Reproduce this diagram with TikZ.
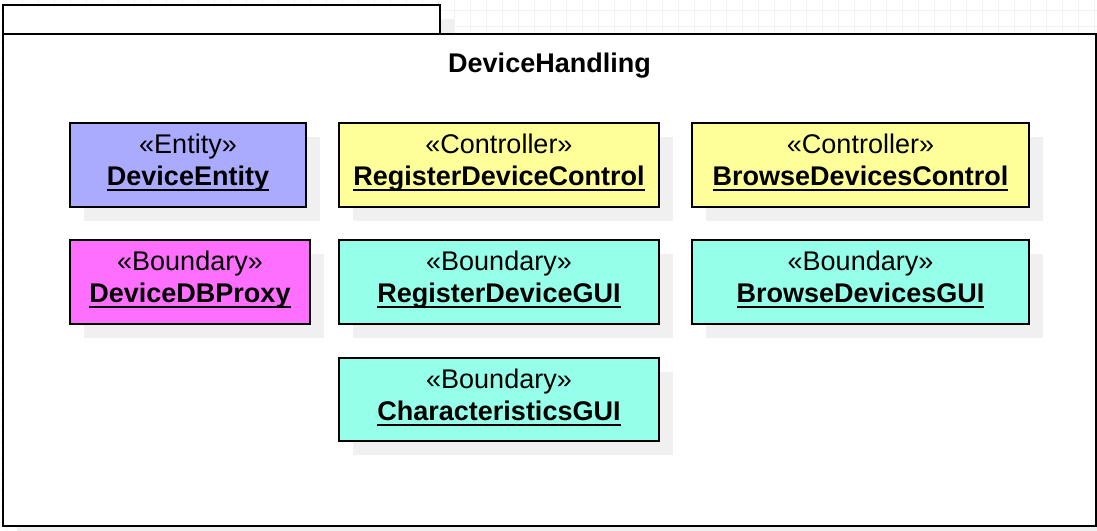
\documentclass[tikz,border=0pt]{standalone}
\usepackage{fontspec}
\setmainfont{Liberation Sans}
\usetikzlibrary{calc}
\definecolor{entityc}{RGB}{170,170,255}
\definecolor{ctrlc}{RGB}{255,255,153}
\definecolor{bndc}{RGB}{150,255,234}
\definecolor{proxyc}{RGB}{255,111,255}
\definecolor{shadc}{RGB}{240,240,240}
\definecolor{gridc}{RGB}{242,242,242}
\newcommand\ulname[1]{\setbox0\hbox{\bfseries #1}\rlap{\rule[-5pt]{\wd0}{2pt}}\box0}
\newcommand\umlbox[8]{%
  \fill[shadc] (#2+14,#3+14) rectangle (#4+14,#5+14);
  \node[classbox, fill=#6, minimum width=#4-#2, minimum height=#5-#3, anchor=north west] (#1) at (#2,#3) {};
  \node[labeltext] (#1-s) at ($(#1.north)+(0,30.5)$) {«#7»};
  \node[labeltext] (#1-n) at ($(#1.north)+(0,62.5)$) {\ulname{#8}};
}
\begin{document}
\begin{tikzpicture}[x=1pt,y=-1pt,
  classbox/.style={draw=black, line width=2pt, inner sep=0pt, outer sep=0pt},
  labeltext/.style={anchor=base, inner sep=0pt, font=\fontsize{27}{32}\selectfont},
  pkgpart/.style={draw=black, line width=2pt, fill=white, inner sep=0pt, outer sep=0pt, anchor=north west},
  gridline/.style={draw=gridc, line width=1pt}
]
\useasboundingbox (0,0) rectangle (1097,530);
\fill[white] (0,0) rectangle (1097,530);
\foreach \i in {0,...,68} \draw[gridline] (6.7+16*\i,0) -- (6.7+16*\i,530);
\foreach \i in {0,...,33} \draw[gridline] (0,10.7+16*\i) -- (1097,10.7+16*\i);
% package
\fill[shadc] (17,19) rectangle (454,48);
\fill[shadc] (17,48) rectangle (1110,540);
\node[pkgpart, minimum width=437, minimum height=29] (tab) at (3,5) {};
\node[pkgpart, minimum width=1093, minimum height=492] (pkg) at (3,34) {};
\node[anchor=base, inner sep=0pt, font=\fontsize{27}{32}\selectfont\bfseries] (title) at (549.5,72) {DeviceHandling};
% classes
\umlbox{ent}{70}{123}{306}{207}{entityc}{Entity}{DeviceEntity}
\umlbox{rdc}{339}{123}{659}{207}{ctrlc}{Controller}{RegisterDeviceControl}
\umlbox{bdc}{692}{123}{1029}{207}{ctrlc}{Controller}{BrowseDevicesControl}
\umlbox{dbp}{70}{240}{310}{324}{proxyc}{Boundary}{DeviceDBProxy}
\umlbox{rdg}{339}{240}{659}{324}{bndc}{Boundary}{RegisterDeviceGUI}
\umlbox{bdg}{692}{240}{1029}{324}{bndc}{Boundary}{BrowseDevicesGUI}
\umlbox{chg}{339}{358}{659}{441}{bndc}{Boundary}{CharacteristicsGUI}
\end{tikzpicture}
\end{document}
